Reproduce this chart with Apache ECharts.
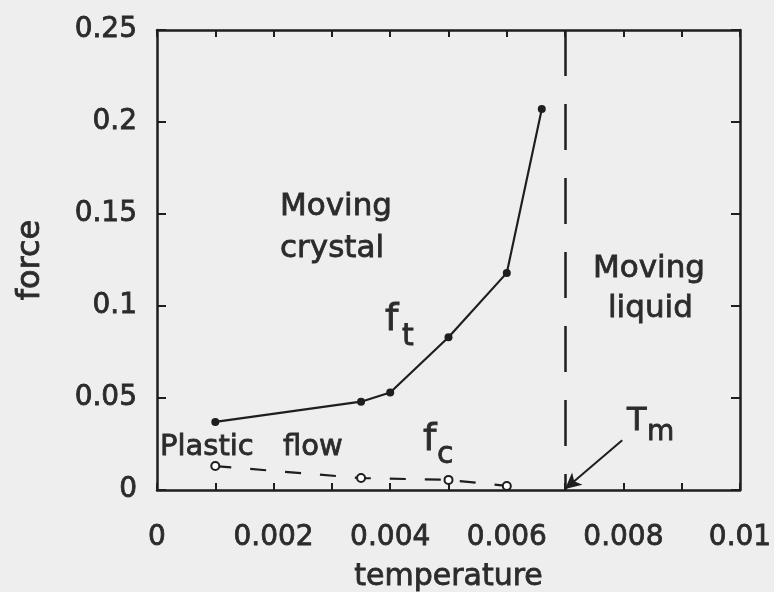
<!DOCTYPE html>
<html>
<head>
<meta charset="utf-8">
<script src="https://cdn.jsdelivr.net/npm/echarts@6/dist/echarts.min.js"></script>
<style>
  html, body { margin: 0; padding: 0; background: #eeeeee; }
  #chart { width: 774px; height: 592px; }
</style>
</head>
<body>
<div id="chart"></div>
<script>
// threshold force f_t (filled dots, solid line)
const ftTemp = [0.001, 0.0035, 0.004, 0.005, 0.006, 0.0066]
const ftForce = [0.037, 0.048, 0.053, 0.083, 0.118, 0.207]
// critical force f_c (open dots, dashed line)
const fcTemp = [0.001, 0.0035, 0.005, 0.006]
const fcForce = [0.013, 0.0065, 0.0055, 0.0022]
// melting temperature
const meltTemp = 0.007
const xTicks = [0, 0.01, 0.002]   // min, max, interval
const yTicks = [0, 0.25, 0.05]

const ink = '#1e1e1e'
const txt = '#2b2b2b'
const font = 'DejaVu Sans'
// slight outline so the thin font looks like the heavier scanned type
const heavy = { textBorderColor: txt, textBorderWidth: 0.8 }

const chart = echarts.init(document.getElementById('chart'))

const xBase = {
  type: 'value', min: xTicks[0], max: xTicks[1], interval: xTicks[2],
  axisLine: { show: true, onZero: false, lineStyle: { color: ink, width: 2.5 } },
  axisTick: { show: true, inside: true, length: 7, lineStyle: { color: ink, width: 2 } },
  minorTick: { show: true, splitNumber: 2, length: 7, lineStyle: { color: ink, width: 2 } },
  splitLine: { show: false }
}
const yBase = {
  type: 'value', min: yTicks[0], max: yTicks[1], interval: yTicks[2],
  axisLine: { show: true, onZero: false, lineStyle: { color: ink, width: 2.5 } },
  axisTick: { show: true, inside: true, length: 9, lineStyle: { color: ink, width: 2 } },
  splitLine: { show: false }
}

chart.setOption({
  backgroundColor: '#eeeeee',
  animation: false,
  grid: { left: 157, right: 34, top: 30, bottom: 102, outerBoundsMode: 'none', containLabel: false },
  xAxis: [
    {
      ...xBase, position: 'bottom',
      name: 'temperature', nameLocation: 'middle', nameGap: 72, nameMoveOverlap: false,
      nameTextStyle: { color: txt, fontFamily: font, fontSize: 30, ...heavy },
      axisLabel: { color: txt, fontFamily: font, fontSize: 28, margin: 34, ...heavy }
    },
    { ...xBase, position: 'top', axisLabel: { show: false } }
  ],
  yAxis: [
    {
      ...yBase, position: 'left',
      name: 'force', nameLocation: 'middle', nameGap: 110, nameMoveOverlap: false,
      nameTextStyle: { color: txt, fontFamily: font, fontSize: 32, ...heavy },
      axisLabel: { color: txt, fontFamily: font, fontSize: 28, margin: 20, ...heavy }
    },
    { ...yBase, position: 'right', axisLabel: { show: false } }
  ],
  series: [
    {
      name: 'f_t', type: 'line',
      data: ftTemp.map((t, i) => [t, ftForce[i]]),
      symbol: 'circle', symbolSize: 8,
      lineStyle: { color: ink, width: 2.2 },
      itemStyle: { color: ink }
    },
    {
      name: 'f_c', type: 'line',
      data: fcTemp.map((t, i) => [t, fcForce[i]]),
      symbol: 'emptyCircle', symbolSize: 8,
      lineStyle: { color: ink, width: 2.2, type: [16, 19] },
      itemStyle: { color: ink, borderColor: ink, borderWidth: 1.8 },
      markLine: {
        silent: true, symbol: 'none', label: { show: false },
        data: [
          // Tm line, drawn from the top frame down
          [
            { coord: [meltTemp, yTicks[1]], lineStyle: { color: ink, width: 2.5, type: [46, 28] } },
            { coord: [meltTemp, yTicks[0]] }
          ],
          [
            { coord: [0.00798, 0.027], symbol: 'none', lineStyle: { color: ink, width: 2, type: 'solid' } },
            { coord: [meltTemp, 0.0005], symbol: 'arrow', symbolSize: [12, 16] }
          ]
        ]
      }
    }
  ],
  graphic: [
    ['Moving', 280, 207, 31], ['crystal', 280, 249, 31],
    ['Moving', 593, 269, 31], ['liquid', 608, 309, 31],
    ['Plastic', 160, 447, 29], ['flow', 283, 447, 29],
    ['f', 385, 320, 38], ['t', 402, 337, 30],
    ['f', 423, 440, 38], ['c', 437, 455, 30],
    ['T', 627, 422, 32], ['m', 647, 433, 28]
  ].map(([text, x, y, size]) => ({
    type: 'text', x, y, silent: true,
    style: {
      text, fill: txt, font: `${size}px "${font}"`, textAlign: 'left', textVerticalAlign: 'middle',
      stroke: txt, lineWidth: 0.8
    }
  }))
})
</script>
</body>
</html>
